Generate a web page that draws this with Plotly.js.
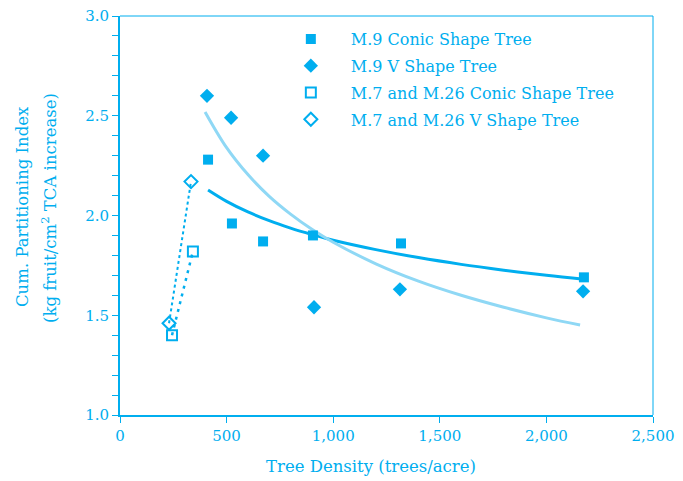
<!DOCTYPE html>
<html>
<head>
<meta charset="utf-8">
<script src="https://cdn.plot.ly/plotly-3.0.1.min.js"></script>
<style>html,body{margin:0;padding:0;background:#fff;}#chart{width:683px;height:481px;}</style>
</head>
<body>
<div id="chart"></div>
<script>
// Data
const m9ConicX = [413, 525, 671, 905, 1318, 2176];
const m9ConicY = [2.28, 1.96, 1.87, 1.90, 1.86, 1.69];
const m9VX = [408, 521, 671, 910, 1313, 2172];
const m9VY = [2.60, 2.49, 2.30, 1.54, 1.63, 1.62];
const m726ConicX = [244, 342];
const m726ConicY = [1.40, 1.82];
const m726VX = [230, 333];
const m726VY = [1.46, 2.17];
// Trend curves
const conicFitX = [413, 500, 600, 700, 800, 900, 1000, 1200, 1400, 1600, 1800, 2000, 2176];
const conicFitY = [2.128, 2.071, 2.018, 1.974, 1.937, 1.905, 1.876, 1.829, 1.789, 1.755, 1.726, 1.700, 1.680];
const vFitX = [399, 500, 600, 700, 800, 900, 1000, 1200, 1400, 1600, 1800, 2000, 2158];
const vFitY = [2.519, 2.340, 2.205, 2.096, 2.007, 1.931, 1.866, 1.758, 1.671, 1.600, 1.540, 1.487, 1.451];
const xTicks = [0, 500, 1000, 1500, 2000, 2500];
const yTicks = [1.0, 1.5, 2.0, 2.5, 3.0];
const xTitle = 'Tree Density (trees/acre)';
const yTitle1 = 'Cum. Partitioning Index';
const yTitle2 = '(kg fruit/cm<sup>2</sup> TCA increase)';

const C = '#00AEEF';
const CL = '#8FD8F5';
const FONT = 'DejaVu Serif';

const traces = [
  {x: conicFitX, y: conicFitY, mode: 'lines', line: {color: C, width: 3, shape: 'spline'}, showlegend: false, hoverinfo: 'skip'},
  {x: vFitX, y: vFitY, mode: 'lines', line: {color: CL, width: 3, shape: 'spline'}, showlegend: false, hoverinfo: 'skip'},
  {x: m726ConicX, y: m726ConicY, mode: 'lines', line: {color: C, width: 2.5, dash: '3px,5px'}, showlegend: false},
  {x: m726VX, y: m726VY, mode: 'lines', line: {color: C, width: 2, dash: 'dot'}, showlegend: false},
  {x: m9ConicX, y: m9ConicY, mode: 'markers', name: 'M.9 Conic Shape Tree', legendgroup: 'a',
   marker: {symbol: 'square', size: 10, color: C}},
  {x: m9VX, y: m9VY, mode: 'markers', name: 'M.9 V Shape Tree', legendgroup: 'b',
   marker: {symbol: 'diamond', size: 11, color: C}},
  {x: m726ConicX, y: m726ConicY, mode: 'markers', name: 'M.7 and M.26 Conic Shape Tree', legendgroup: 'c',
   marker: {symbol: 'square-open', size: 10, color: C, line: {width: 2, color: C}}},
  {x: m726VX, y: m726VY, mode: 'markers', name: 'M.7 and M.26 V Shape Tree', legendgroup: 'd',
   marker: {symbol: 'diamond-open', size: 10, color: C, line: {width: 2, color: C}}}
];

const layout = {
  width: 683, height: 481,
  margin: {l: 120, r: 30, t: 16, b: 66},
  paper_bgcolor: '#fff', plot_bgcolor: '#fff',
  font: {family: FONT, color: C, size: 15},
  showlegend: true,
  legend: {x: 0.283, y: 0.985, xanchor: 'left', yanchor: 'top', bgcolor: 'rgba(0,0,0,0)',
           font: {family: FONT, size: 16, color: C}, tracegroupgap: 3, itemwidth: 70},
  xaxis: {range: [0, 2500], tickvals: xTicks, tickformat: ',', showgrid: false, zeroline: false,
          showline: true, linecolor: C, linewidth: 2, ticks: 'outside', ticklen: 6, tickcolor: C, tickwidth: 1,
          tickfont: {family: FONT, size: 15, color: C}},
  yaxis: {range: [1.0, 3.0], tickvals: yTicks, tickformat: '.1f', showgrid: false, zeroline: false,
          showline: true, linecolor: C, linewidth: 2, ticks: 'outside', ticklen: 6, tickcolor: C, tickwidth: 1,
          minor: {dtick: 0.1, ticks: 'outside', ticklen: 6, tickcolor: C, tickwidth: 1, showgrid: false},
          tickfont: {family: FONT, size: 15, color: C}},
  annotations: [
    {text: xTitle, xref: 'paper', yref: 'paper', x: (371 - 120) / 533, y: -(466 - 415) / 399,
     xanchor: 'center', yanchor: 'middle', showarrow: false, font: {family: FONT, size: 16.5, color: C}},
    {text: yTitle1, xref: 'paper', yref: 'paper', x: (22 - 120) / 533, y: (415 - 207) / 399, textangle: -90,
     xanchor: 'center', yanchor: 'middle', showarrow: false, font: {family: FONT, size: 16.5, color: C}},
    {text: yTitle2, xref: 'paper', yref: 'paper', x: (49 - 120) / 533, y: (415 - 208) / 399, textangle: -90,
     xanchor: 'center', yanchor: 'middle', showarrow: false, font: {family: FONT, size: 16.5, color: C}}
  ],
  shapes: [
    {type: 'line', xref: 'paper', yref: 'paper', x0: 0, x1: 1, y0: 1, y1: 1, line: {color: C, width: 1}},
    {type: 'line', xref: 'paper', yref: 'paper', x0: 1, x1: 1, y0: 0, y1: 1, line: {color: C, width: 1}}
  ]
};

Plotly.newPlot('chart', traces, layout, {displayModeBar: false, staticPlot: true});
</script>
</body>
</html>
